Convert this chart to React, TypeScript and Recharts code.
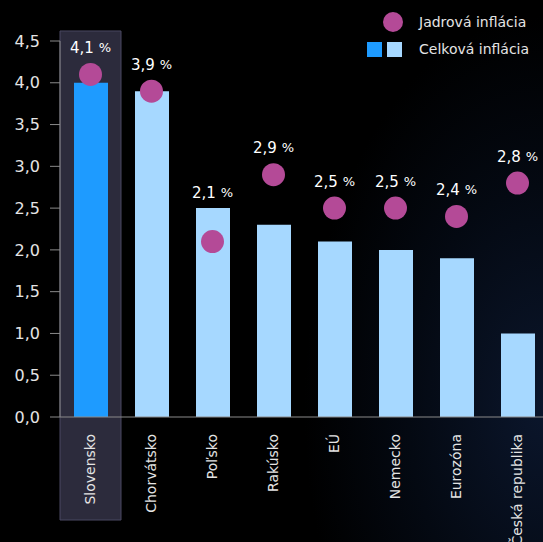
import React from 'react';
import { ComposedChart, Bar, Line, XAxis, YAxis, Cell, ReferenceArea, LabelList } from 'recharts';

const categories = ['Slovensko', 'Chorvátsko', 'Poľsko', 'Rakúsko', 'EÚ', 'Nemecko', 'Eurozóna', 'Česká republika'];
const headlineInflation = [4.0, 3.9, 2.5, 2.3, 2.1, 2.0, 1.9, 1.0];
const coreInflation = [4.1, 3.9, 2.1, 2.9, 2.5, 2.5, 2.4, 2.8];
const yTicks = [0, 0.5, 1, 1.5, 2, 2.5, 3, 3.5, 4, 4.5];
const seriesNames = ['Jadrová inflácia', 'Celková inflácia'];
const highlighted = 'Slovensko';

const data = categories.map((name, i) => ({ name, headline: headlineInflation[i], core: coreInflation[i] }));

const COLORS = {
  core: '#b44a97',
  headlineHi: '#1e9bff',
  headline: '#a6d8ff',
  axis: '#8a8a8a',
  text: '#e4e4e4',
};
const FONT = '"DejaVu Sans", sans-serif';
const DOT_R = 11.5;

const fmt = (v: number) => v.toFixed(1).replace('.', ',');

const XTick = (props: any) => {
  const { x, y, payload } = props;
  return (
    <g transform={`translate(${x},${y})`}>
      <text transform="rotate(-90)" x={-15} y={0} dy="0.35em" textAnchor="end" fill={COLORS.text} fontSize={14} fontFamily={FONT}>
        {payload.value}
      </text>
    </g>
  );
};

const renderDot = (props: any) => {
  const { cx, cy, index } = props;
  if (cx == null || cy == null) return <g key={`d${index}`} />;
  return <circle key={`d${index}`} cx={cx} cy={cy} r={DOT_R} fill={COLORS.core} />;
};

const topValue = (d: any) => Math.max(d.core, d.headline);

const renderLabel = (props: any) => {
  const { x, y, index } = props;
  if (x == null || y == null) return null;
  const d = data[index];
  const dotOnTop = d.core >= d.headline;
  const top = dotOnTop ? y - DOT_R : y;
  return (
    <text key={`l${index}`} x={x} y={top - 15} dominantBaseline="middle" textAnchor="middle" fill="#ffffff" fontFamily={FONT}>
      <tspan fontSize={15}>{fmt(d.core) + ' '}</tspan>
      <tspan fontSize={13}>%</tspan>
    </text>
  );
};

export default function App() {
  return (
    <div
      style={{
        position: 'absolute',
        left: 0,
        top: 0,
        width: 543,
        height: 542,
        overflow: 'hidden',
        background: 'radial-gradient(ellipse 55% 90% at 100% 75%, #0b162c 0%, #040912 45%, #000000 80%)',
      }}
    >
      <ComposedChart width={560} height={542} data={data} margin={{ top: 41, right: 12, bottom: 0, left: 0 }}>
        <ReferenceArea
          x1={highlighted}
          x2={highlighted}
          y1={-1.233}
          y2={4.62}
          ifOverflow="visible"
          fill="#2c2b3c"
          fillOpacity={1}
          stroke="#4a4962"
          strokeWidth={1}
        />
        <XAxis
          dataKey="name"
          interval={0}
          height={125}
          tickLine={false}
          tickSize={0}
          axisLine={{ stroke: COLORS.axis }}
          tick={<XTick />}
        />
        <YAxis
          width={60}
          domain={[0, 4.5]}
          ticks={yTicks}
          tickFormatter={fmt}
          tickSize={10}
          tickMargin={10}
          axisLine={{ stroke: COLORS.axis }}
          tickLine={{ stroke: COLORS.axis }}
          tick={{ fill: COLORS.text, fontSize: 16, fontFamily: FONT }}
        />
        <Bar dataKey="headline" barSize={34} isAnimationActive={false}>
          {data.map((d, i) => (
            <Cell key={i} fill={d.name === highlighted ? COLORS.headlineHi : COLORS.headline} />
          ))}
        </Bar>
        <Line dataKey="core" stroke="none" dot={renderDot} activeDot={false} isAnimationActive={false} />
        <Line dataKey={topValue} stroke="none" dot={false} activeDot={false} isAnimationActive={false}>
          <LabelList content={renderLabel} />
        </Line>
      </ComposedChart>
      <div style={{ position: 'absolute', left: 383, top: 11, fontFamily: FONT, fontSize: 14, color: COLORS.text }}>
        <div style={{ position: 'absolute', left: 0, top: 1, width: 20, height: 20, borderRadius: 10, background: COLORS.core }} />
        <div style={{ position: 'absolute', left: 36, top: 2, whiteSpace: 'nowrap', lineHeight: '18px' }}>{seriesNames[0]}</div>
      </div>
      <div style={{ position: 'absolute', left: 367, top: 42, fontFamily: FONT, fontSize: 14, color: COLORS.text }}>
        <div style={{ position: 'absolute', left: 0, top: 0, width: 15, height: 15, background: COLORS.headlineHi }} />
        <div style={{ position: 'absolute', left: 20, top: 0, width: 15, height: 15, background: COLORS.headline }} />
        <div style={{ position: 'absolute', left: 52, top: -2, whiteSpace: 'nowrap', lineHeight: '18px' }}>{seriesNames[1]}</div>
      </div>
    </div>
  );
}
